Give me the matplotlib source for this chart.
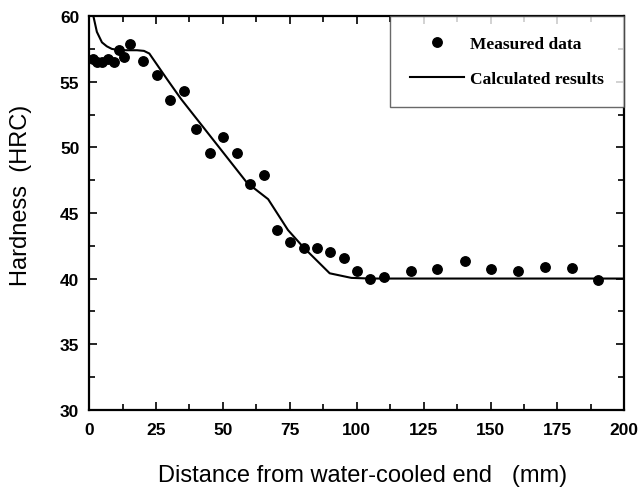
#!/usr/bin/env python3
"""Jominy hardness profile: measured data vs calculated results."""
import matplotlib
matplotlib.use("Agg")
import matplotlib.pyplot as plt
from matplotlib.ticker import MultipleLocator

# Measured hardness (HRC) vs distance from water-cooled end (mm)
measured_x = [1.3, 2.9, 5.0, 7.1, 9.4, 11.2, 13.1, 15.4, 20.1, 25.4, 30.1, 35.4,
              40.1, 45.1, 50.2, 55.2, 60.2, 65.2, 70.2, 75.2, 80.2, 85.2, 90.2,
              95.2, 100.2, 105.1, 110.1, 120.2, 130.1, 140.3, 150.3, 160.3,
              170.3, 180.3, 190.3]
measured_y = [56.7, 56.5, 56.5, 56.7, 56.5, 57.4, 56.9, 57.9, 56.6, 55.5, 53.6, 54.3,
              51.4, 49.6, 50.8, 49.6, 47.2, 47.9, 43.7, 42.8, 42.3, 42.3, 42.0,
              41.6, 40.6, 40.0, 40.1, 40.6, 40.7, 41.3, 40.7, 40.6,
              40.9, 40.8, 39.9]

# Calculated hardness curve
calc_x = [1.0, 1.6, 2.9, 4.8, 6.6, 8.5, 11.6, 17.9, 20.5, 22.5, 29.1, 34.3,
          59.0, 66.9, 74.3, 80.0, 89.9, 98.0, 105.0, 200.0]
calc_y = [60.4, 60.0, 58.8, 58.0, 57.7, 57.5, 57.4, 57.4, 57.35, 57.15, 55.2, 53.7,
          47.3, 46.05, 43.7, 42.4, 40.4, 40.05, 40.0, 40.0]

fig = plt.figure(figsize=(6.41, 4.89), dpi=100)
ax = fig.add_axes([0.139, 0.160, 0.835, 0.805])

ax.plot(measured_x, measured_y, "o", color="black", markersize=6.8,
        label="Measured data", clip_on=False, zorder=3)
ax.plot(calc_x, calc_y, "-", color="black", linewidth=1.5,
        label="Calculated results")

ax.set_xlim(0, 200)
ax.set_ylim(30, 60)
ax.xaxis.set_major_locator(MultipleLocator(25))
ax.xaxis.set_minor_locator(MultipleLocator(12.5))
ax.yaxis.set_major_locator(MultipleLocator(5))
ax.yaxis.set_minor_locator(MultipleLocator(2.5))

for spine in ax.spines.values():
    spine.set_linewidth(1.6)

ax.tick_params(which="both", direction="in", top=True, right=True, width=1.2)
ax.tick_params(which="major", length=6)
ax.tick_params(which="minor", length=4)
ax.tick_params(axis="x", which="major", pad=9)
ax.tick_params(axis="y", which="major", pad=7)

for lbl in ax.get_xticklabels() + ax.get_yticklabels():
    lbl.set_fontfamily("Liberation Sans")
    lbl.set_fontweight("bold")
    lbl.set_fontsize(12.5)

ax.set_xlabel("Distance from water-cooled end   (mm)", fontsize=17,
              family="Liberation Sans")
ax.set_ylabel("Hardness  (HRC)", fontsize=17, family="Liberation Sans")
ax.xaxis.set_label_coords(0.51, -0.138)
ax.yaxis.set_label_coords(-0.107, 0.548)

leg = ax.legend(loc="upper right", bbox_to_anchor=(1.0, 1.0), borderaxespad=0,
                frameon=True, fancybox=False, edgecolor="#444444",
                prop={"family": "Liberation Serif", "weight": "bold", "size": 12.5},
                borderpad=1.15, labelspacing=1.05, handlelength=3.15,
                handletextpad=0.35, markerscale=1.0)
leg.get_frame().set_linewidth(1.0)

fig.savefig("out.png", dpi=100)
